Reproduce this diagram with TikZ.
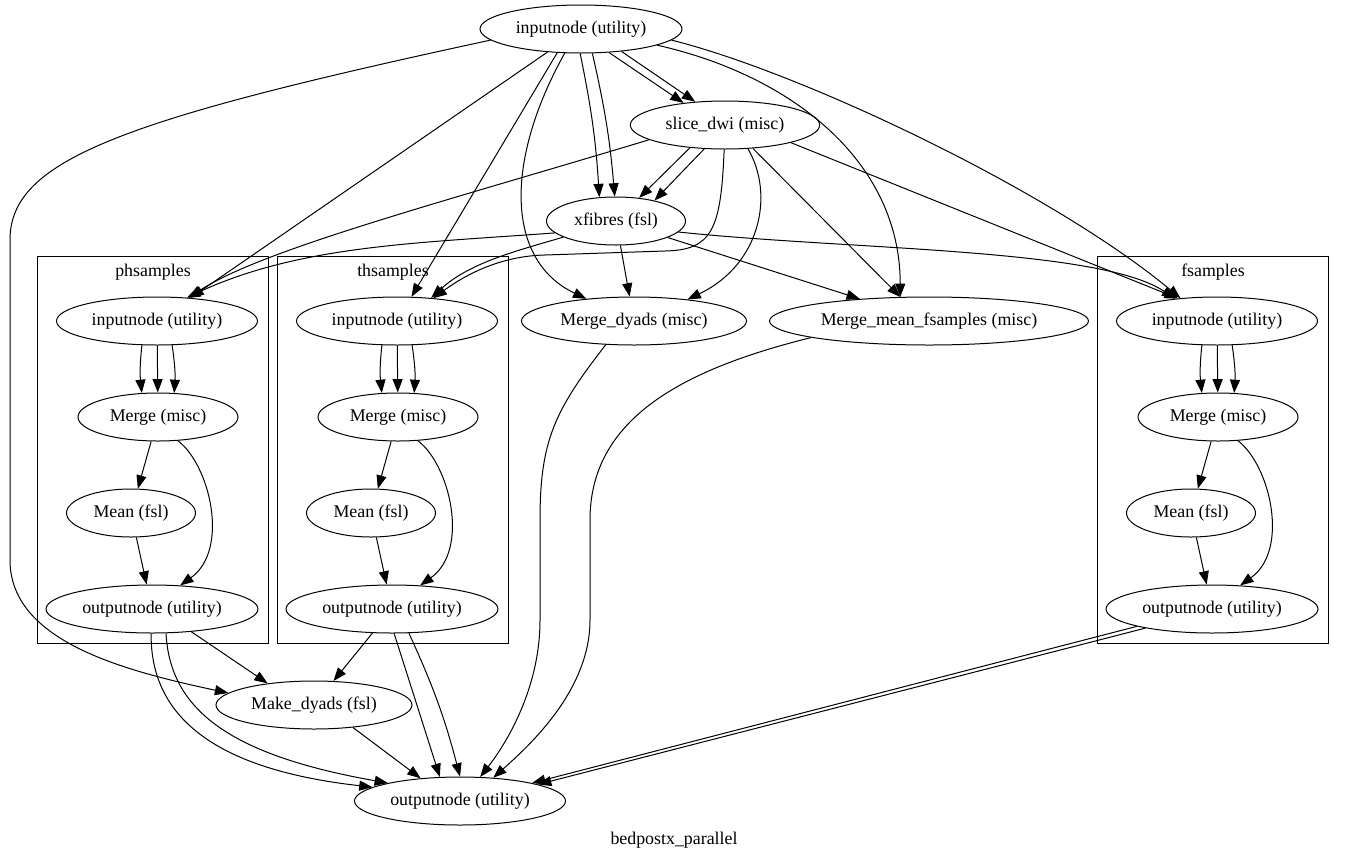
\documentclass[tikz,border=0pt]{standalone}
\usepackage{fontspec}
\setmainfont{Liberation Serif}
\usetikzlibrary{arrows.meta,shapes.geometric}

\begin{document}
\begin{tikzpicture}[x=0.75pt, y=-0.75pt,
    font=\fontsize{13.4}{16}\selectfont,
    proc/.style={ellipse, draw, line width=0.75pt, inner xsep=-10pt, inner ysep=0pt, minimum height=36pt},
    clust/.style={draw, line width=0.75pt},
    e/.style={line width=0.75pt, -{Triangle[length=10pt,width=7.5pt]}}]
  \useasboundingbox (0,0) rectangle (1349,861);
  % top level nodes
  \node[proc, minimum width=151.5pt] (inU) at (581,29) {inputnode (utility)};
  \node[proc, minimum width=142pt] (slice) at (725,125) {slice\_dwi (misc)};
  \node[proc, minimum width=104.25pt] (xfib) at (616,221) {xfibres (fsl)};
  \node[proc, minimum width=168.75pt] (mdy) at (634,321) {Merge\_dyads (misc)};
  \node[proc, minimum width=239.25pt] (mmf) at (929,321) {Merge\_mean\_fsamples (misc)};
  \node[proc, minimum width=147pt] (mkdy) at (314,705) {Make\_dyads (fsl)};
  \node[proc, minimum width=158.25pt] (outU) at (460,801) {outputnode (utility)};
  \node (title) at (674,840) {bedpostx\_parallel};
  % the three sample clusters
  \foreach \cl/\dx/\lab in {ph/0/phsamples, th/240/thsamples, fs/1060/fsamples} {
    \draw[clust] ({37+\dx},256) rectangle ({268+\dx},643);
    \node (\cl Lab) at ({153+\dx},272) {\lab};
    \node[proc, minimum width=150.75pt] (\cl In) at ({157+\dx},321) {inputnode (utility)};
    \node[proc, minimum width=120pt] (\cl Merge) at ({158+\dx},417) {Merge (misc)};
    \node[proc, minimum width=96.75pt] (\cl Mean) at ({131+\dx},513) {Mean (fsl)};
    \node[proc, minimum width=159pt] (\cl Out) at ({152+\dx},609) {outputnode (utility)};
    \draw[e] (\cl In.238) to[bend right=6] (\cl Merge.124);
    \draw[e] (\cl In) -- (\cl Merge);
    \draw[e] (\cl In.302) to[bend left=6] (\cl Merge.56);
    \draw[e] (\cl Merge) -- (\cl Mean);
    \draw[e] (\cl Merge.310) .. controls ({210+\dx},465) and ({230+\dx},550) .. (\cl Out.40);
    \draw[e] (\cl Mean) -- (\cl Out);
  }
  % from inputnode
  \draw[e] (inU) -- (phIn);
  \draw[e] (inU.225) -- (thIn);
  \draw[e] (inU.268) to[bend left=4] (xfib.125);
  \draw[e] (inU.295) to[bend left=4] (xfib.93);
  \draw[e] (inU.320) -- (slice.152);
  \draw[e] (inU.331) -- (slice.142);
  \draw[e] (inU.236) .. controls (505,160) and (505,260) .. (mdy.155);
  \draw[e] (inU.348) .. controls (790,75) and (900,160) .. (mmf.140);
  \draw[e] (inU.353) .. controls (800,72) and (1050,190) .. (fsIn.148);
  \draw[e] (inU.187) .. controls (120,120) and (10,160) .. (10,240) -- (10,560)
    .. controls (10,640) and (120,670) .. (mkdy.172);
  % from slice_dwi
  \draw[e] (slice.191) .. controls (450,200) and (260,250) .. (phIn.36);
  \draw[e] (slice.213) -- (xfib.45);
  \draw[e] (slice.229) -- (xfib.28);
  \draw[e] (slice.268) .. controls (721,230) and (712,250) .. (665,251) -- (545,255)
    .. controls (500,256) and (465,275) .. (thIn.32);
  \draw[e] (slice.314) .. controls (775,195) and (760,265) .. (mdy.22);
  \draw[e] (slice.320) -- (mmf.140);
  \draw[e] (slice.345) -- (fsIn.150);
  % from xfibres
  \draw[e] (xfib.191) .. controls (420,243) and (300,245) .. (phIn.38);
  \draw[e] (xfib.197) .. controls (520,250) and (470,262) .. (thIn.34);
  \draw[e] (xfib) -- (mdy);
  \draw[e] (xfib) -- (mmf);
  \draw[e] (xfib.350) .. controls (850,250) and (1100,248) .. (fsIn.152);
  % into the final outputnode
  \draw[e] (mdy.220) .. controls (555,410) and (540,440) .. (540,520) -- (540,620)
    .. controls (540,690) and (505,745) .. (outU.50);
  \draw[e] (mmf.188) .. controls (680,370) and (590,420) .. (590,520) -- (590,620)
    .. controls (590,690) and (530,745) .. (outU.35);
  \draw[e] (phOut.330) -- (mkdy.155);
  \draw[e] (phOut.268) .. controls (150,720) and (220,770) .. (outU.171);
  \draw[e] (phOut.300) .. controls (170,710) and (230,755) .. (outU.166);
  \draw[e] (thOut) -- (mkdy);
  \draw[e] (thOut.275) -- (outU.130);
  \draw[e] (thOut.305) to[bend left=5] (outU.90);
  \draw[e] (fsOut.193) -- (outU.14);
  \draw[e] (fsOut.196) -- (outU.12);
  \draw[e] (mkdy.330) -- (outU.150);
\end{tikzpicture}
\end{document}
